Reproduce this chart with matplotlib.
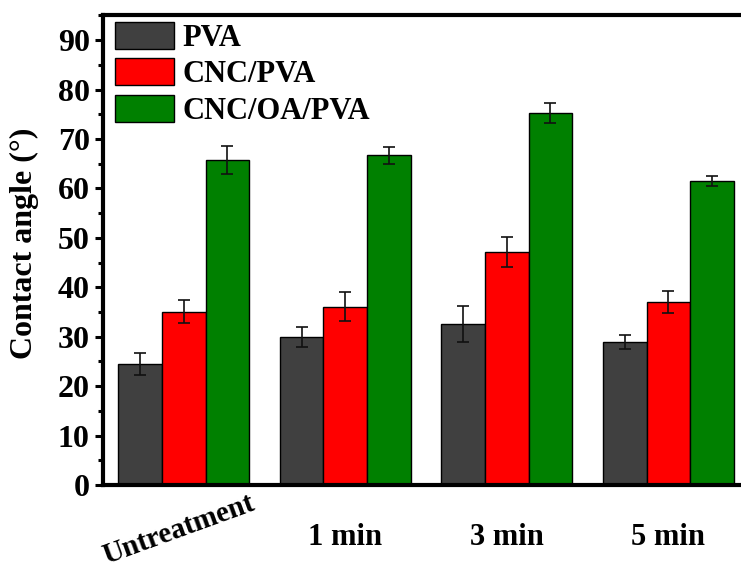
import numpy as np
import matplotlib
matplotlib.use('Agg')
import matplotlib.pyplot as plt
from matplotlib.ticker import MultipleLocator

# contact angle data
groups = ['Untreatment', '1 min', '3 min', '5 min']
series = ['PVA', 'CNC/PVA', 'CNC/OA/PVA']
pva = [24.5, 29.9, 32.6, 28.9]
pva_err = [2.3, 2.0, 3.7, 1.4]
cnc_pva = [35.1, 36.1, 47.1, 37.0]
cnc_pva_err = [2.4, 3.0, 3.0, 2.2]
cnc_oa_pva = [65.8, 66.7, 75.3, 61.5]
cnc_oa_pva_err = [2.8, 1.7, 2.0, 1.0]
colors = ['#404040', '#ff0000', '#008000']

plt.rcParams['font.family'] = ['Liberation Serif', 'DejaVu Serif']
plt.rcParams['font.weight'] = 'bold'

fig = plt.figure(figsize=(7.41, 5.70), dpi=100)
ax = fig.add_axes([0.139, 0.149, 0.861, 0.824])

x = np.arange(len(groups))
w = 0.27
vals = [pva, cnc_pva, cnc_oa_pva]
errs = [pva_err, cnc_pva_err, cnc_oa_pva_err]
for i in range(3):
    ax.bar(x + (i - 1) * w, vals[i], w, color=colors[i], edgecolor='black',
           linewidth=1.0, label=series[i], zorder=2)
    ax.errorbar(x + (i - 1) * w, vals[i], yerr=errs[i], fmt='none',
                ecolor='#111111', elinewidth=1.2, capsize=4, capthick=1.2, zorder=3)

ax.set_xlim(-0.5, 3.45)
ax.set_ylim(0, 95)
ax.yaxis.set_major_locator(MultipleLocator(10))
ax.yaxis.set_minor_locator(MultipleLocator(5))
ax.tick_params(axis='y', which='major', direction='out', length=5.5, width=2.2,
               labelsize=23, pad=4)
ax.tick_params(axis='y', which='minor', direction='out', length=3.5, width=2.2)
ax.tick_params(axis='x', length=0, labelbottom=False)
ax.set_xticks(x)

for s in ['left', 'bottom', 'top']:
    ax.spines[s].set_linewidth(3)
ax.spines['right'].set_visible(False)

ax.set_ylabel('Contact angle (°)', fontsize=23, fontweight='bold')
ax.yaxis.set_label_coords(-0.100, 0.515)

# category labels below the axis
trans = ax.get_xaxis_transform()
for i, g in enumerate(groups):
    if i == 0:
        ax.text(x[i] - 0.03, -0.096, g, transform=trans, rotation=20,
                ha='center', va='center', fontsize=21, fontweight='bold')
    else:
        ax.text(x[i], -0.112, g, transform=trans, ha='center', va='center',
                fontsize=22, fontweight='bold')

leg = ax.legend(loc='upper left', bbox_to_anchor=(0.01, 1.0), frameon=False,
                fontsize=22, handlelength=1.9, handleheight=1.0,
                labelspacing=0.18, handletextpad=0.3, borderpad=0.2,
                borderaxespad=0.0)

fig.savefig('out.png', dpi=100)
